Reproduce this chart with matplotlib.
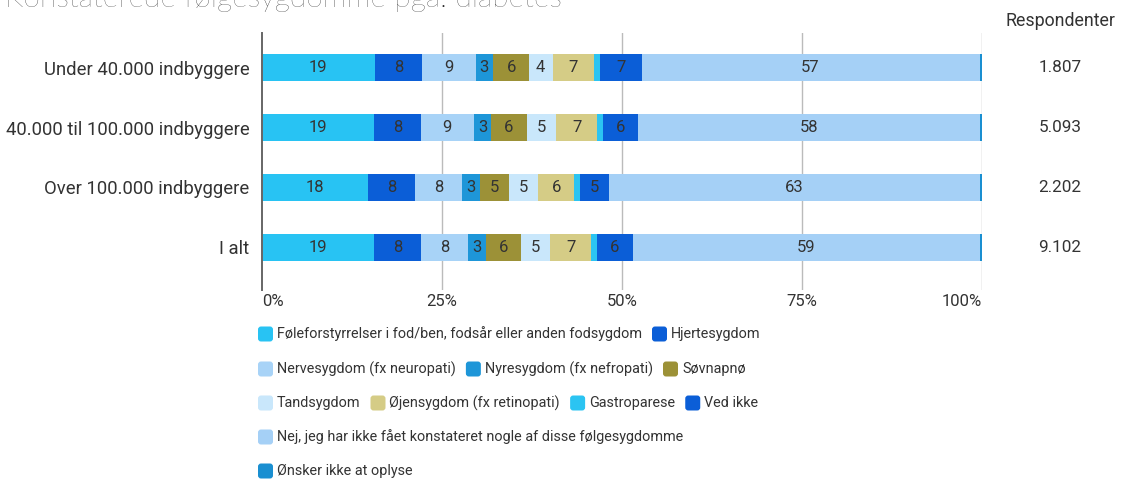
import matplotlib
matplotlib.use("Agg")
import matplotlib.pyplot as plt
from matplotlib.patches import FancyBboxPatch
from matplotlib.transforms import IdentityTransform, blended_transform_factory
import numpy as np

plt.rcParams['font.family'] = ['Roboto', 'DejaVu Sans']

# ---------------- data ----------------
title = "Konstaterede følgesygdomme pga. diabetes"
groups = ["Under 40.000 indbyggere", "40.000 til 100.000 indbyggere",
          "Over 100.000 indbyggere", "I alt"]
respondents = ["1.807", "5.093", "2.202", "9.102"]
resp_header = "Respondenter"

series_names = [
    "Føleforstyrrelser i fod/ben, fodsår eller anden fodsygdom",
    "Hjertesygdom",
    "Nervesygdom (fx neuropati)",
    "Nyresygdom (fx nefropati)",
    "Søvnapnø",
    "Tandsygdom",
    "Øjensygdom (fx retinopati)",
    "Gastroparese",
    "Ved ikke",
    "Nej, jeg har ikke fået konstateret nogle af disse følgesygdomme",
    "Ønsker ikke at oplyse",
]
foele = [19, 19, 18, 19]
hjerte = [8, 8, 8, 8]
nerve = [9, 9, 8, 8]
nyre = [3, 3, 3, 3]
soevn = [6, 6, 5, 6]
tand = [4, 5, 5, 5]
oejen = [7, 7, 6, 7]
gastro = [1, 1, 1, 1]
ved_ikke = [7, 6, 5, 6]
nej = [57, 58, 63, 59]
oensker = [0.4, 0.4, 0.4, 0.4]

series_values = [foele, hjerte, nerve, nyre, soevn, tand, oejen,
                 gastro, ved_ikke, nej, oensker]
colors = ["#28C3F3", "#0B5ED7", "#A8D3F7", "#1E96D8", "#9C9137", "#C9E7FB",
          "#D5CC86", "#2BC4F2", "#0B5ED7", "#A5D0F6", "#1A8FD1"]
legend_rows = [[0, 1], [2, 3, 4], [5, 6, 7, 8], [9], [10]]

xticks = [0, 25, 50, 75, 100]
xtick_labels = ["0%", "25%", "50%", "75%", "100%"]

# ---------------- figure ----------------
W, H = 1129, 480
fig = plt.figure(figsize=(W / 100, H / 100), dpi=100)
fig.patch.set_facecolor("white")

ax = fig.add_axes([262 / W, 1 - 290 / H, 720 / W, 257 / H])
vals = np.array(series_values, dtype=float)
totals = vals.sum(axis=0)
shares = vals / totals * 100
ypos = np.arange(len(groups))

left = np.zeros(len(groups))
for i, (name, col) in enumerate(zip(series_names, colors)):
    ax.barh(ypos, shares[i], left=left, height=0.45, color=col,
            edgecolor="none", zorder=2, label=name)
    for j in range(len(groups)):
        v = vals[i, j]
        if v >= 2:
            ax.text(left[j] + shares[i, j] / 2, ypos[j], f"{v:g}",
                    ha="center", va="center", fontsize=12, color="#333333",
                    zorder=3)
    left += shares[i]

ax.set_xlim(0, 100)
ax.set_ylim(3.717, -0.583)
for s in ["top", "right", "bottom"]:
    ax.spines[s].set_visible(False)
ax.spines["left"].set_color("#666666")
ax.spines["left"].set_linewidth(1.4)
ax.spines["left"].set_zorder(4)
for xv in xticks[1:]:
    ax.axvline(xv, color="#BBBBBB", lw=1.0, zorder=1)

ax.set_xticks(xticks)
ax.set_xticklabels(xtick_labels, fontsize=12, color="#333333")
ax.tick_params(axis="x", length=0, pad=3)
xl = ax.get_xticklabels()
xl[0].set_ha("left")
xl[-1].set_ha("right")

ax.set_yticks(ypos)
ax.set_yticklabels(groups, fontsize=13.3, color="#333333")
ax.tick_params(axis="y", length=0, pad=9)

# respondents column
tr = blended_transform_factory(fig.transFigure, ax.transData)
for j, r in enumerate(respondents):
    ax.text(1060 / W, ypos[j], r, transform=tr, ha="center", va="center",
            fontsize=12.3, color="#333333", clip_on=False)
fig.text(1060 / W, 1 - 21 / H, resp_header, ha="center", va="center",
         fontsize=12.8, color="#333333")

# title (partially cut at top)
fig.text(5 / W, 1 - 7 / H, title, ha="left", va="baseline", fontsize=21.6,
         color="#222222", fontweight="light", family=["Lato", "DejaVu Sans"])

# legend (flow layout)
renderer = fig.canvas.get_renderer()
row_y = [334, 369, 403, 437, 471]
for r, items in enumerate(legend_rows):
    x = 258
    yc = row_y[r]
    for idx in items:
        sq = FancyBboxPatch((x, H - yc - 7.5), 15, 15,
                            boxstyle="round,pad=0,rounding_size=3",
                            transform=IdentityTransform(),
                            facecolor=colors[idx], edgecolor="none")
        fig.add_artist(sq)
        t = fig.text((x + 19) / W, 1 - yc / H, series_names[idx],
                     ha="left", va="center", fontsize=10.4, color="#333333")
        w = t.get_window_extent(renderer).width
        x = x + 19 + w + 10

fig.savefig("out.png", dpi=100, facecolor="white")
